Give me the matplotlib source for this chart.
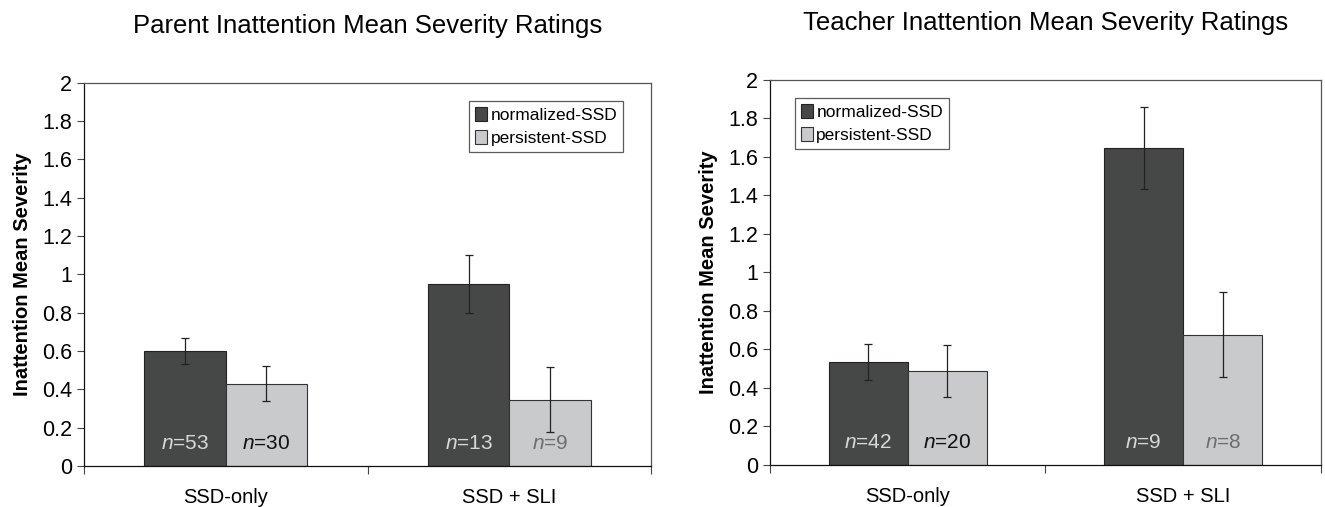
import matplotlib
matplotlib.use("Agg")
import matplotlib.pyplot as plt
import numpy as np

plt.rcParams['font.family'] = ['Liberation Sans', 'DejaVu Sans']
plt.rcParams['mathtext.fontset'] = 'custom'
plt.rcParams['mathtext.rm'] = 'Liberation Sans'
plt.rcParams['mathtext.it'] = 'Liberation Sans:italic'

categories = ['SSD-only', 'SSD + SLI']
series = ['normalized-SSD', 'persistent-SSD']

parent_norm = [0.60, 0.95]
parent_norm_lo = [0.53, 0.80]
parent_norm_hi = [0.67, 1.10]
parent_pers = [0.43, 0.345]
parent_pers_lo = [0.34, 0.175]
parent_pers_hi = [0.52, 0.515]
parent_n_norm = [53, 13]
parent_n_pers = [30, 9]

teacher_norm = [0.535, 1.645]
teacher_norm_lo = [0.44, 1.43]
teacher_norm_hi = [0.63, 1.86]
teacher_pers = [0.49, 0.675]
teacher_pers_lo = [0.355, 0.455]
teacher_pers_hi = [0.625, 0.895]
teacher_n_norm = [42, 9]
teacher_n_pers = [20, 8]

dark = '#464847'
light = '#c9cacc'
n_colors_norm = ['#d8d8d8', '#d8d8d8']
n_colors_pers = ['#111111', '#6e6e6e']

fig = plt.figure(figsize=(13.25, 5.07), dpi=100)
ax1 = fig.add_axes([0.0634, 0.081, 0.428, 0.756])
ax2 = fig.add_axes([0.581, 0.083, 0.416, 0.760])


def draw(ax, title, norm, nlo, nhi, pers, plo, phi, nn, npers, anchor, loc):
    x = np.arange(len(categories))
    w = 0.287
    norm = np.array(norm)
    pers = np.array(pers)
    ax.bar(x - w / 2, norm, w, color=dark, edgecolor='#222222', linewidth=0.8,
           label=series[0], zorder=2)
    ax.bar(x + w / 2, pers, w, color=light, edgecolor='#333333', linewidth=0.8,
           label=series[1], zorder=2)
    ax.errorbar(x - w / 2, norm, yerr=[norm - np.array(nlo), np.array(nhi) - norm],
                fmt='none', ecolor='#222222', elinewidth=0.9, capsize=3, capthick=0.9, zorder=3)
    ax.errorbar(x + w / 2, pers, yerr=[pers - np.array(plo), np.array(phi) - pers],
                fmt='none', ecolor='#222222', elinewidth=0.9, capsize=3, capthick=0.9, zorder=3)
    for i in range(len(categories)):
        ax.text(x[i] - w / 2, 0.115, r'$\it{n}$=%d' % nn[i], ha='center', va='center',
                fontsize=15, color=n_colors_norm[i], zorder=4)
        ax.text(x[i] + w / 2, 0.115, r'$\it{n}$=%d' % npers[i], ha='center', va='center',
                fontsize=15, color=n_colors_pers[i], zorder=4)
    ax.set_xlim(-0.5, 1.5)
    ax.set_ylim(0, 2)
    ax.set_yticks(np.arange(0, 2.01, 0.2))
    ax.set_yticklabels(['0', '0.2', '0.4', '0.6', '0.8', '1', '1.2', '1.4', '1.6', '1.8', '2'])
    ax.set_xticks([-0.5, 0.5, 1.5])
    ax.set_xticklabels([])
    ax.set_xticks(x, minor=True)
    ax.set_xticklabels(categories, minor=True)
    ax.tick_params(axis='x', which='minor', length=0, pad=16, labelsize=14.5)
    ax.tick_params(axis='x', which='major', length=6, direction='out', color='#444444')
    ax.tick_params(axis='y', length=5, labelsize=15.5, color='#444444')
    for s in ax.spines.values():
        s.set_color('#555555')
        s.set_linewidth(0.9)
    ax.spines['bottom'].set_color('#111111')
    ax.spines['left'].set_color('#111111')
    ax.set_ylabel('Inattention Mean Severity', fontsize=14.5, fontweight='bold', labelpad=7)
    ax.set_title(title, fontsize=18.5, pad=36)
    leg = ax.legend(loc=loc, fontsize=12.5, frameon=True, fancybox=False,
                    edgecolor='#333333', handlelength=0.7, handleheight=0.9,
                    handletextpad=0.2, borderpad=0.35, labelspacing=0.4,
                    borderaxespad=0, bbox_to_anchor=anchor)
    leg.get_frame().set_linewidth(0.9)


draw(ax1, 'Parent Inattention Mean Severity Ratings', parent_norm, parent_norm_lo,
     parent_norm_hi, parent_pers, parent_pers_lo, parent_pers_hi,
     parent_n_norm, parent_n_pers, (0.951, 0.953), 'upper right')
draw(ax2, 'Teacher Inattention Mean Severity Ratings', teacher_norm, teacher_norm_lo,
     teacher_norm_hi, teacher_pers, teacher_pers_lo, teacher_pers_hi,
     teacher_n_norm, teacher_n_pers, (0.045, 0.953), 'upper left')

fig.savefig('out.png', dpi=100)
